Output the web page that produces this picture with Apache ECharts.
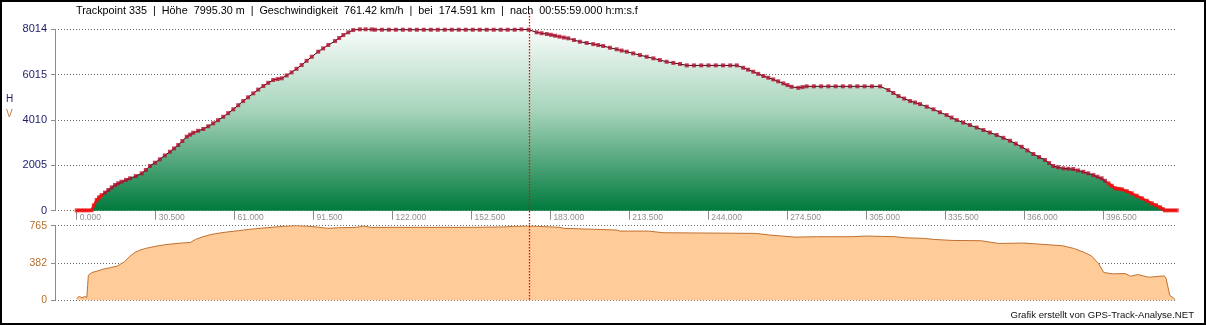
<!DOCTYPE html>
<html><head><meta charset="utf-8">
<script src="https://cdn.jsdelivr.net/npm/echarts@6/dist/echarts.min.js"></script>
<style>html,body{margin:0;padding:0;background:#fff}#c{width:1206px;height:325px}</style>
</head><body><div id="c"></div>
<script>
// elevation profile: [km, metres]
const elevation = [
 [0,15],[1.4,15],[2.8,15],[4.2,15],[5.7,20],[6.6,230],[7.7,470],[8.6,590],[9.6,690],[10.9,800],
 [12.2,915],[13.5,1030],[14.8,1135],[16.0,1210],[17.3,1280],[19.0,1360],[20.6,1430],[22.8,1530],
 [25.1,1650],[26.7,1800],[28.3,1975],[30.2,2120],[32.1,2270],[34.0,2440],[36.0,2605],[37.6,2750],
 [39.2,2900],[40.8,3080],[42.5,3270],[43.8,3360],[45.0,3445],[46.9,3530],[48.9,3610],[50.8,3730],
 [52.7,3860],[54.6,4000],[56.6,4150],[58.5,4310],[60.5,4480],[62.4,4660],[64.3,4845],[66.2,5010],
 [68.2,5185],[70.1,5350],[72.1,5510],[74.0,5650],[75.9,5775],[77.6,5815],[79.2,5850],[81.1,5975],
 [83.0,6110],[84.9,6270],[86.9,6435],[88.8,6620],[90.8,6800],[93.3,7025],[95.2,7170],[97.2,7320],
 [99.8,7495],[101.4,7630],[103.0,7760],[104.9,7880],[106.8,7980],[109.4,8014],[111.6,8014],[113.9,8010],
 [115.2,7995],[117.9,7995],[120.6,7995],[123.3,7995],[126.0,7995],[128.7,7995],[131.4,7995],[134.1,7995],
 [136.8,7995],[139.5,7995],[142.2,7995],[144.9,7995],[147.6,7995],[150.3,7995],[153.0,7995],[155.7,7995],
 [158.4,7995],[161.1,7995],[163.8,7995],[166.5,7995],[169.2,7995],[171.8,8010],[174.6,7995],
 [177.7,7880],[179.6,7840],[181.6,7805],[183.2,7770],[184.8,7730],[186.5,7690],[188.2,7650],[189.9,7615],
 [192.1,7540],[194.4,7465],[197.0,7410],[199.6,7360],[201.5,7318],[203.4,7275],[206.0,7200],[208.6,7130],
 [210.5,7075],[212.5,7025],[215.0,6950],[217.6,6875],[220.2,6800],[222.8,6730],[225.3,6655],[227.9,6580],
 [230.5,6530],[233.1,6480],[235.7,6420],[238.5,6420],[241.3,6420],[244.1,6420],[246.9,6420],[249.7,6420],
 [252.5,6420],[255.0,6420],[257.5,6315],[259.4,6230],[261.4,6140],[263.3,6045],[265.3,5950],[267.2,5875],
 [269.1,5800],[271.0,5715],[273.0,5625],[274.6,5550],[276.2,5475],[278.8,5430],[280.4,5460],[282.0,5495],
 [284.8,5495],[287.6,5495],[290.4,5495],[293.2,5495],[296.0,5495],[298.8,5495],[301.6,5495],[304.4,5495],
 [307.2,5495],[310.4,5495],[313.6,5330],[315.5,5200],[317.5,5065],[319.7,4955],[322.0,4845],[323.9,4780],
 [325.8,4710],[328.4,4595],[331.0,4480],[333.5,4350],[336.1,4225],[338.0,4115],[340.0,4005],[342.5,3895],
 [345.1,3785],[347.7,3675],[350.3,3565],[352.8,3455],[355.4,3345],[358.0,3220],[360.6,3090],[362.8,2960],
 [365.1,2825],[367.3,2665],[369.6,2505],[371.8,2370],[374.1,2240],[375.7,2105],[377.3,1975],[379.2,1920],
 [381.2,1870],[383.1,1855],[385.0,1840],[386.9,1780],[388.9,1720],[390.8,1650],[392.8,1575],[394.4,1500],
 [396.0,1430],[397.3,1320],[398.6,1210],[399.9,1100],[401.2,990],[402.5,965],[403.8,945],[405.7,860],
 [407.6,770],[409.5,660],[411.5,550],[413.4,440],[415.4,325],[417.0,240],[418.6,150],[419.6,70],
 [420.5,15],[422.0,15],[423.5,15],[425.0,15]
];
// speed profile: [km, km/h]
const speed = [
 [0,20],[1.0,40],[2.0,25],[3.0,38],[3.9,30],[4.2,150],[4.5,257],[5.9,285],[8.0,300],[10.1,319],
 [13.0,335],[15.6,350],[18.4,395],[20.5,450],[22.5,491],[24.5,515],[26.6,532],[30.8,556],[34.9,573],
 [40.4,587],[43.9,593],[45.9,624],[48.7,652],[51.5,672],[54.2,686],[58.0,700],[62.5,714],[66.5,727],
 [70.8,738],[76.3,751],[80.5,760],[84.6,765],[88.7,761],[92.9,751],[97.0,738],[101.2,744],[108.0,748],
 [110.8,761],[113.6,748],[131.5,748],[152.2,748],[165.0,752],[168.8,758],[174.6,761.42],[178.4,758],
 [186.7,748],[188.1,738],[196.4,731],[208.8,720],[209.9,710],[220.9,710],[226.5,693],[262.3,686],
 [267.8,669],[277.5,648],[285.8,652],[299.6,652],[305.1,659],[316.2,652],[320.3,641],[327.2,635],
 [331.3,624],[338.2,614],[349.3,611],[356.2,583],[365.8,587],[370.0,580],[381.0,559],[385.2,532],
 [389.3,491],[392.0,456],[394.8,377],[396.8,285],[400.3,271],[405.1,274],[407.2,247],[409.9,264],
 [414.1,237],[420.2,250],[420.9,223],[422.3,51],[423.7,24],[424.4,7]
];
const xTickLabels = ['0.000','30.500','61.000','91.500','122.000','152.500','183.000','213.500','244.000','274.500','305.000','335.500','366.000','396.500'];
const elevTickLabels = ['0','2005','4010','6015','8014'];
const speedTickLabels = ['0','382','765'];
const crossPoint = 335, crossElev = '7995.30', crossSpeed = '761.42', crossKm = 174.591, crossTime = '00:55:59.000';
const creditText = 'Grafik erstellt von GPS-Track-Analyse.NET';

const FONT = 'Liberation Sans, Arial, sans-serif';
const elevMax = 8014, elevStep = elevMax / 4;
const speedMax = 765, speedStep = speedMax / 2;
const xMin = -8.4, xMax = 425.1;
const isEnd = km => km <= 9.6 || km >= 398.6;
const xTickValues = xTickLabels.map(Number);

const chart = echarts.init(document.getElementById('c'), null, {renderer: 'canvas'});

const yCommon = {
  type: 'value',
  axisLine: {show: true, onZero: false, lineStyle: {color: '#8c8c8c', width: 1}},
  axisTick: {show: true, length: 4, lineStyle: {color: '#8c8c8c'}},
  splitLine: {show: true, lineStyle: {color: '#6a6a6a', type: [1, 2], width: 1}}
};

const option = {
  animation: false,
  backgroundColor: '#ffffff',
  grid: [
    {left: 55, top: 29.3, width: 1122, height: 181.4},
    {left: 55, top: 225.7, width: 1122, height: 74.6}
  ],
  xAxis: [
    {type: 'value', gridIndex: 0, min: xMin, max: xMax,
     axisLine: {show: false, onZero: false}, splitLine: {show: false},
     axisTick: {show: true, customValues: xTickValues, length: 9, inside: false,
                lineStyle: {color: '#8a8a8a'}},
     axisLabel: {show: true, customValues: xTickValues, formatter: v => xTickLabels[xTickValues.indexOf(v)] ?? '',
                 color: '#8f8f8f', fontSize: 8.5, fontFamily: FONT, align: 'left', margin: 2, padding: [0, 0, 0, 3]}},
    {type: 'value', gridIndex: 1, min: xMin, max: xMax,
     axisLine: {show: false, onZero: false}, axisTick: {show: false}, axisLabel: {show: false}, splitLine: {show: false}}
  ],
  yAxis: [
    Object.assign({}, yCommon, {gridIndex: 0, min: 0, max: elevMax, interval: elevStep,
      axisLabel: {formatter: v => elevTickLabels[Math.round(v / elevStep)], color: '#1c1c6a', fontSize: 11,
                  fontFamily: FONT, margin: 8, padding: [0, 0, 5, 0]}}),
    Object.assign({}, yCommon, {gridIndex: 1, min: 0, max: speedMax, interval: speedStep,
      axisLabel: {formatter: v => speedTickLabels[Math.round(v / speedStep)], color: '#b3702f', fontSize: 10.5,
                  fontFamily: FONT, margin: 8, padding: [0, 0, 9, 0]}})
  ],
  series: [
    {type: 'line', xAxisIndex: 0, yAxisIndex: 0, data: elevation, showSymbol: false, silent: true,
     lineStyle: {color: '#3a0010', width: 1}, z: 2,
     areaStyle: {opacity: 1, color: new echarts.graphic.LinearGradient(0, 0, 0, 1, [
       {offset: 0, color: '#f8fcfa'}, {offset: 0.45, color: '#a6d4bb'}, {offset: 1, color: '#007a3d'}])}},
    {type: 'line', xAxisIndex: 0, yAxisIndex: 0, showSymbol: false, silent: true, z: 4,
     data: elevation.map(p => isEnd(p[0]) ? p : [p[0], null]),
     lineStyle: {color: '#ee1111', width: 2.5}},
    {type: 'scatter', xAxisIndex: 0, yAxisIndex: 0, data: elevation, symbol: 'rect', symbolSize: 4, silent: true, z: 3,
     itemStyle: {color: p => isEnd(p.value[0]) ? '#e41515' : '#b0102e'}},
    {type: 'line', xAxisIndex: 1, yAxisIndex: 1, data: speed, showSymbol: false, silent: true,
     lineStyle: {color: '#c0702f', width: 1}, areaStyle: {color: '#ffcc99', opacity: 1}}
  ]
};
chart.setOption(option);

const cx = chart.convertToPixel({xAxisIndex: 0}, crossKm);
const titleText = 'Trackpoint ' + crossPoint + '  |  Höhe  ' + crossElev + ' m  |  Geschwindigkeit  ' + crossSpeed +
  ' km/h  |  bei  ' + crossKm.toFixed(3) + ' km  |  nach  ' + crossTime + ' h:m:s.f';
chart.setOption({
  graphic: [
    {type: 'rect', id: 'frame', silent: true, z: 100, shape: {x: 1, y: 1, width: 1204, height: 323},
     style: {fill: null, stroke: '#000', lineWidth: 2}},
    {type: 'line', id: 'cross', silent: true, z: 50, shape: {x1: Math.round(cx) + 0.5, y1: 13, x2: Math.round(cx) + 0.5, y2: 300},
     style: {stroke: '#ff0000', lineWidth: 1.3, lineDash: [1.5, 1.5]}},
    {type: 'text', id: 'title', silent: true, x: 76, y: 11,
     style: {text: titleText, fill: '#000', font: '10.8px ' + FONT, textVerticalAlign: 'middle'}},
    {type: 'text', id: 'hLbl', silent: true, x: 6, y: 99,
     style: {text: 'H', fill: '#1c1c6a', font: '10px ' + FONT, textVerticalAlign: 'middle'}},
    {type: 'text', id: 'vLbl', silent: true, x: 6, y: 114,
     style: {text: 'V', fill: '#c07a3a', font: '10px ' + FONT, textVerticalAlign: 'middle'}},
    {type: 'text', id: 'credit', silent: true, x: 1194, y: 315,
     style: {text: creditText, fill: '#111', font: '9.6px ' + FONT, textAlign: 'right', textVerticalAlign: 'middle'}}
  ]
});
</script></body></html>
